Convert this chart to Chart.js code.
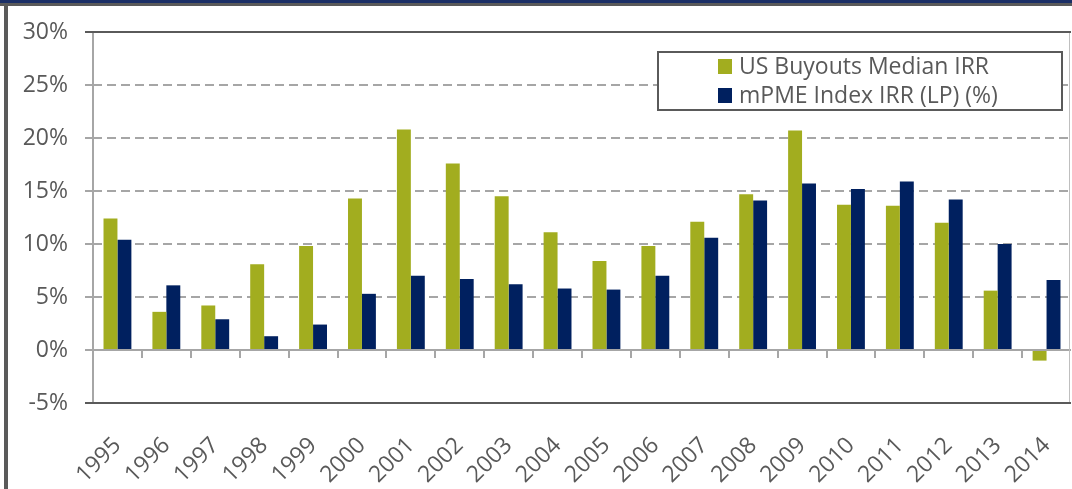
<!DOCTYPE html>
<html>
<head>
<meta charset="utf-8">
<script src="https://cdn.jsdelivr.net/npm/chart.js@4.4.1/dist/chart.umd.min.js"></script>
<style>
    html, body { margin: 0; padding: 0; background: #fff; }
    #wrap { position: relative; width: 1072px; height: 489px; overflow: hidden; }
    #topBar { position: absolute; left: 0; top: 0; width: 1072px; height: 3px; background: #1b2f66; }
    #topLine { position: absolute; left: 0; top: 3px; width: 1072px; height: 3px; background: #5a5a5a; }
    #leftBar { position: absolute; left: 4px; top: 3px; width: 4px; height: 486px; background: #5a5a5a; }
    canvas { position: absolute; left: 0; top: 0; }
</style>
</head>
<body>
<div id="wrap">
    <div id="topBar"></div>
    <div id="topLine"></div>
    <div id="leftBar"></div>
    <canvas id="irrChart" width="1072" height="489"></canvas>
</div>
<script>
// Vintage years and IRRs (%)
const years = ['1995', '1996', '1997', '1998', '1999', '2000', '2001', '2002', '2003', '2004',
               '2005', '2006', '2007', '2008', '2009', '2010', '2011', '2012', '2013', '2014'];
const buyoutsIrr = [12.4, 3.6, 4.2, 8.1, 9.8, 14.3, 20.8, 17.6, 14.5, 11.1,
                    8.4, 9.8, 12.1, 14.7, 20.7, 13.7, 13.6, 12.0, 5.6, -1.0];
const mpmeIrr = [10.4, 6.1, 2.9, 1.3, 2.4, 5.3, 7.0, 6.7, 6.2, 5.8,
                 5.7, 7.0, 10.6, 14.1, 15.7, 15.2, 15.9, 14.2, 10.0, 6.6];
const yMin = -5, yMax = 30, yStep = 5;

const colors = {
    green: '#a2ad1f',
    navy: '#00205f',
    text: '#595959',
    grid: '#a6a6a6',
    frame: '#5a5a5a'
};

const FONT = "'Open Sans', sans-serif";

// frame of the plot, zero line with category ticks, and the boxed legend
const excelLook = {
    id: 'excelLook',
    afterDatasetsDraw(chart) {
        const ctx = chart.ctx;
        const area = chart.chartArea;
        const x = chart.scales.x;
        const y = chart.scales.y;
        const zeroY = Math.round(y.getPixelForValue(0));

        ctx.save();
        // zero line
        ctx.strokeStyle = colors.grid;
        ctx.lineWidth = 2;
        ctx.beginPath();
        ctx.moveTo(area.left, zeroY);
        ctx.lineTo(area.right, zeroY);
        // tick marks between categories, hanging down from zero line
        const n = x.getLabels().length;
        const step = (area.right - area.left) / n;
        for (let i = 1; i < n; i++) {
            const tx = Math.round(x.getPixelForValue(i) - step / 2);
            ctx.moveTo(tx, zeroY);
            ctx.lineTo(tx, zeroY + 8);
        }
        ctx.stroke();

        // left axis
        ctx.beginPath();
        ctx.moveTo(area.left, area.top);
        ctx.lineTo(area.left, area.bottom);
        ctx.stroke();

        // right edge
        ctx.strokeStyle = '#bfbfbf';
        ctx.lineWidth = 1;
        ctx.beginPath();
        ctx.moveTo(area.right - 1.5, area.top);
        ctx.lineTo(area.right - 1.5, area.bottom);
        ctx.stroke();

        // top and bottom edges
        ctx.strokeStyle = colors.frame;
        ctx.lineWidth = 2;
        ctx.beginPath();
        ctx.moveTo(area.left - 8, area.top);
        ctx.lineTo(area.right, area.top);
        ctx.moveTo(area.left - 8, area.bottom);
        ctx.lineTo(area.right, area.bottom);
        ctx.stroke();

        // legend box
        const lx = area.right - 413, ly = area.top + 20, lw = 404, lh = 58;
        ctx.fillStyle = '#fff';
        ctx.fillRect(lx, ly, lw, lh);
        ctx.strokeStyle = colors.frame;
        ctx.lineWidth = 2;
        ctx.strokeRect(lx, ly, lw, lh);
        ctx.font = '23px ' + FONT;
        ctx.textBaseline = 'middle';
        ctx.textAlign = 'left';
        chart.data.datasets.forEach((ds, i) => {
            const rowY = ly + 14 + i * 29;
            ctx.fillStyle = ds.backgroundColor;
            ctx.fillRect(lx + 60, rowY - 7, 14, 15);
            ctx.fillStyle = colors.text;
            ctx.fillText(ds.label, lx + 81, rowY + 1);
        });
        ctx.restore();
    }
};

new Chart(document.getElementById('irrChart'), {
    type: 'bar',
    data: {
        labels: years,
        datasets: [
            {
                label: 'US Buyouts Median IRR',
                data: buyoutsIrr,
                backgroundColor: colors.green,
                barPercentage: 1,
                categoryPercentage: 0.57
            },
            {
                label: 'mPME Index IRR (LP) (%)',
                data: mpmeIrr,
                backgroundColor: colors.navy,
                barPercentage: 1,
                categoryPercentage: 0.57
            }
        ]
    },
    options: {
        responsive: false,
        animation: false,
        layout: { padding: { top: 32, right: 1, left: 0, bottom: 0 } },
        plugins: {
            legend: { display: false },
            tooltip: { enabled: false }
        },
        scales: {
            y: {
                min: yMin,
                max: yMax,
                afterFit: s => { s.width = 93; },
                ticks: {
                    stepSize: yStep,
                    padding: 17,
                    color: colors.text,
                    font: { family: FONT, size: 23 },
                    callback: v => v + '%'
                },
                grid: {
                    color: ctx => (ctx.tick && (ctx.tick.value === 0 || ctx.tick.value === yMax || ctx.tick.value === yMin)) ? 'rgba(0,0,0,0)' : colors.grid,
                    lineWidth: 2,
                    tickColor: colors.grid,
                    tickLength: 8,
                    tickWidth: 2
                },
                border: { display: false, dash: [9, 5] }
            },
            x: {
                afterFit: s => {
                    s.height = 86;
                    s.paddingLeft = 0;
                    s.paddingRight = 0;
                },
                ticks: {
                    maxRotation: 45,
                    minRotation: 45,
                    padding: 21,
                    color: colors.text,
                    font: { family: FONT, size: 23 }
                },
                grid: { display: false },
                border: { display: false }
            }
        }
    },
    plugins: [excelLook]
});
</script>
</body>
</html>
